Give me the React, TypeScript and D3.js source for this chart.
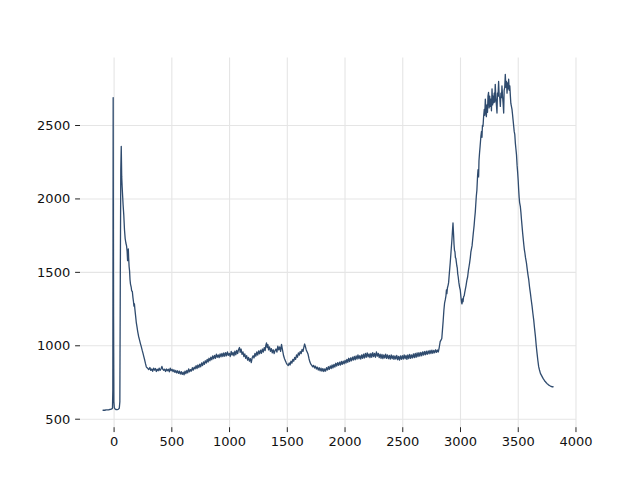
import React from "react";
import * as d3 from "d3";

// [wavenumber, intensity]
const spectrum: [number, number][] = [
  [-100,560],[-90,562],[-80,561],[-70,563],[-60,564],[-50,563],[-40,566],[-30,567],[-20,570],[-14,574],[-11,700],[-8,2690],[-5,1200],[-2,620],[2,578],[8,570],[15,566],[25,565],[35,567],[45,575],[50,620],[54,1500],[58,2200],[62,2358],
  [66,2150],[70,2080],[74,2020],[78,1960],[84,1890],[90,1790],[96,1730],[102,1700],[108,1680],[113,1640],[117,1580],[120,1610],[123,1660],[126,1600],[130,1540],[134,1510],[138,1450],[142,1420],[148,1400],[152,1375],[158,1370],[163,1330],[168,1300],[172,1270],[176,1285],[180,1250],[186,1205],[192,1160],[198,1130],[205,1095],[212,1065],[220,1040],[228,1015],[236,993],[243,970],[250,950],[258,925],[265,903],[272,878],[279,857],[286,850],[293,845],
  [300,838],[310,852],[318,832],[326,842],[334,826],[342,848],[350,834],[358,845],[366,825],[374,840],[382,830],[390,848],[398,832],[406,842],[414,860],[422,840],[430,833],[438,840],[446,825],[454,842],[462,830],[470,840],[478,823],[486,847],[494,830],[502,840],[510,824],[518,837],[526,819],[534,832],[542,815],[550,830],[558,812],[566,827],[574,808],[582,824],[590,805],[598,820],[606,802],[614,828],[622,810],[630,832],[638,815],[646,843],[654,823],[662,838],[670,828],[678,851],[686,834],[694,855],
  [702,843],[710,865],[718,845],[726,869],[734,852],[742,875],[750,857],[758,883],[766,865],[774,891],[782,873],[790,898],[798,882],[806,908],[814,889],[822,915],[830,897],[838,923],[846,905],[854,931],[862,912],[870,935],[878,915],[886,943],[894,922],[902,938],[910,919],[918,945],[926,925],[934,948],[942,927],[950,951],[958,929],[966,953],[974,932],[982,958],[990,935],[998,948],[1006,927],[1014,961],[1022,937],[1030,955],[1038,932],[1046,963],[1054,939],[1062,968],[1070,947],[1078,975],[1086,988],[1092,955],[1100,978],[1108,942],[1116,958],[1124,927],[1132,945],[1140,915],[1148,933],[1156,902],[1164,921],[1172,895],[1180,913],[1188,885],[1196,918],
  [1204,932],[1212,917],[1220,948],[1228,929],[1236,958],[1244,937],[1252,965],[1260,945],[1268,971],[1276,949],[1284,978],[1292,957],[1300,988],[1308,967],[1314,1003],[1320,1020],[1326,987],[1332,1008],[1338,972],[1346,993],[1354,962],[1362,981],[1370,952],[1378,973],[1386,947],[1394,968],[1402,978],[1410,957],[1418,998],[1426,972],[1434,993],[1442,962],[1450,1010],[1456,982],[1462,957],[1468,932],[1476,912],[1484,897],[1492,882],[1500,872],[1508,865],[1516,883],[1524,869],[1532,895],[1540,882],[1548,908],[1556,895],[1564,921],[1572,907],[1580,938],[1588,922],[1596,951],[1604,937],[1612,961],[1620,947],[1628,975],[1636,962],[1644,993],[1650,1012],[1656,997],[1664,972],[1672,957],[1680,942],[1688,912],[1696,889],
  [1704,875],[1712,866],[1720,857],[1728,867],[1736,849],[1744,861],[1752,842],[1760,855],[1768,835],[1776,851],[1784,829],[1792,848],[1800,827],[1808,845],[1816,825],[1824,843],[1832,827],[1840,851],[1848,835],[1856,858],[1864,839],[1872,863],[1880,845],[1888,869],[1896,849],[1904,873],[1912,855],[1920,881],[1928,862],[1936,885],[1944,867],[1952,888],[1960,869],[1968,893],[1976,873],[1984,895],[1992,877],[2000,901],[2008,882],[2016,908],[2024,887],[2032,915],[2040,892],[2048,918],[2056,897],[2064,923],[2072,902],[2080,928],[2088,905],[2096,931],[2104,909],[2112,938],[2120,912],[2128,933],[2136,909],[2144,938],[2152,915],[2160,943],[2168,917],[2176,948],[2184,922],[2192,951],[2200,925],[2208,945],[2216,919],[2224,948],[2232,922],[2240,953],[2248,927],[2256,948],[2264,922],[2272,958],[2280,929],[2288,948],[2296,919],[2304,943],[2312,915],[2320,941],[2328,912],[2336,938],[2344,917],[2352,943],[2360,915],[2368,938],[2376,912],[2384,935],[2392,909],[2400,938],[2408,912],[2416,933],[2424,907],[2432,931],[2440,909],[2448,935],[2456,905],[2464,928],[2472,902],[2480,931],[2488,907],[2496,933],[2504,909],[2512,938],[2520,912],[2528,935],[2536,907],[2544,938],[2552,912],[2560,941],[2568,915],[2576,938],[2584,917],[2592,945],[2600,919],[2608,948],[2616,922],[2624,951],[2632,927],[2640,953],[2648,929],[2656,955],[2664,932],[2672,958],[2680,937],[2688,961],[2696,939],[2704,963],[2712,942],[2720,965],[2728,945],[2736,968],[2744,947],[2752,971],[2760,949],[2768,968],[2776,952],[2784,973],[2792,955],[2800,971],[2808,958],[2816,990],[2824,1028],[2832,1040],[2838,1050],[2844,1110],[2850,1170],
  [2856,1240],[2862,1290],[2868,1312],[2874,1340],[2878,1380],[2882,1355],[2887,1395],[2892,1410],[2897,1430],[2904,1500],[2911,1565],[2918,1640],[2926,1725],[2931,1790],[2935,1836],[2940,1760],[2944,1690],[2948,1650],[2952,1640],[2956,1600],[2960,1595],[2964,1570],[2968,1545],[2972,1530],[2976,1490],[2980,1470],[2986,1430],[2992,1400],[2998,1380],[3004,1330],[3009,1295],[3013,1285],[3018,1320],[3022,1300],[3027,1335],[3032,1340],[3036,1360],[3041,1380],[3048,1410],[3055,1445],[3062,1470],[3068,1510],[3074,1540],[3079,1565],[3085,1600],[3090,1640],[3095,1660],[3100,1680],[3105,1720],[3110,1760],[3114,1790],[3118,1820],[3122,1860],[3128,1910],[3132,1960],[3137,2020],[3142,2060],[3148,2160],[3152,2200],[3157,2150],[3160,2260],[3165,2315],[3170,2360],[3174,2400],[3177,2430],[3182,2460],[3186,2420],[3190,2500],[3195,2495],[3200,2560],[3206,2610],
  [3210,2570],[3215,2680],[3220,2600],[3224,2560],[3229,2640],[3234,2590],[3238,2700],[3243,2725],[3248,2620],[3253,2700],[3258,2630],[3263,2680],[3268,2600],[3273,2750],[3278,2640],[3282,2700],[3287,2655],[3292,2720],[3296,2660],[3301,2780],[3306,2690],[3311,2640],[3316,2585],[3320,2720],[3325,2700],[3330,2800],[3335,2700],[3340,2690],[3345,2630],[3350,2720],[3355,2690],[3359,2770],[3364,2700],[3369,2650],[3374,2585],[3378,2740],[3383,2760],[3388,2848],[3393,2760],[3398,2800],[3403,2720],[3408,2790],[3412,2750],[3417,2815],[3422,2740],[3427,2770],[3432,2700],[3436,2650],[3441,2630],[3446,2610],[3450,2580],[3455,2540],[3460,2500],[3465,2460],[3470,2440],[3475,2380],[3480,2340],[3485,2300],[3490,2230],[3495,2180],[3500,2120],[3504,2060],[3508,2010],[3512,1975],[3518,1950],[3523,1910],[3528,1860],[3533,1815],[3538,1770],[3543,1730],[3548,1690],[3553,1655],[3558,1630],[3563,1600],[3571,1565],[3578,1520],[3585,1480],[3591,1450],[3598,1400],[3605,1360],[3612,1315],[3620,1268],[3627,1220],[3634,1176],[3641,1120],[3649,1062],[3656,1000],[3663,948],[3670,900],[3677,858],[3684,835],[3692,812],[3700,800],[3708,788],[3715,778],[3722,770],[3729,760],[3736,755],[3743,748],[3750,742],[3757,738],[3764,732],[3771,730],[3778,726],[3786,724],[3793,720],[3800,722],[3805,718]
];

const xTicks = [0, 500, 1000, 1500, 2000, 2500, 3000, 3500, 4000];
const yTicks = [500, 1000, 1500, 2000, 2500];

const W = 640, H = 480;
const M = { left: 80, right: 576, top: 57.6, bottom: 427.2 };
const LINE = "#2f4b6e";
const FONT = "'DejaVu Sans', sans-serif";

function pad(ext: [number, number]): [number, number] {
  const r = ext[1] - ext[0];
  return [ext[0] - 0.05 * r, ext[1] + 0.05 * r];
}

export default function App() {
  const xExt = d3.extent(spectrum, d => d[0]) as [number, number];
  const yExt = d3.extent(spectrum, d => d[1]) as [number, number];
  const x = d3.scaleLinear().domain(pad(xExt)).range([M.left, M.right]);
  const y = d3.scaleLinear().domain(pad(yExt)).range([M.bottom, M.top]);
  const line = d3.line<[number, number]>().x(d => x(d[0])).y(d => y(d[1]));

  return (
    <svg width={W} height={H} style={{ position: "absolute", left: 0, top: 0 }} fontFamily={FONT}>
      <rect width={W} height={H} fill="#fff" />
      <g>
        {xTicks.map(t => (
          <line key={"gx" + t} x1={x(t)} x2={x(t)} y1={M.top} y2={M.bottom} stroke="#e5e5e5" strokeWidth={1.1} />
        ))}
        {yTicks.map(t => (
          <line key={"gy" + t} x1={M.left} x2={M.right} y1={y(t)} y2={y(t)} stroke="#e5e5e5" strokeWidth={1.1} />
        ))}
      </g>
      <path d={line(spectrum) || ""} fill="none" stroke={LINE} strokeWidth={1.3} strokeLinejoin="round" />
      <g fontSize={13} fill="#000">
        {xTicks.map(t => (
          <g key={"tx" + t}>
            <line x1={x(t)} x2={x(t)} y1={M.bottom} y2={M.bottom + 4.9} stroke="#222" strokeWidth={1} />
            <text x={x(t)} y={M.bottom + 4.9 + 3.5 + 10.5} textAnchor="middle" fill="#111">{t}</text>
          </g>
        ))}
        {yTicks.map(t => (
          <g key={"ty" + t}>
            <line x1={M.left - 4.9} x2={M.left} y1={y(t)} y2={y(t)} stroke="#222" strokeWidth={1} />
            <text x={M.left - 9.8} y={y(t)} dy="0.35em" textAnchor="end" fill="#111">{t}</text>
          </g>
        ))}
      </g>
    </svg>
  );
}
